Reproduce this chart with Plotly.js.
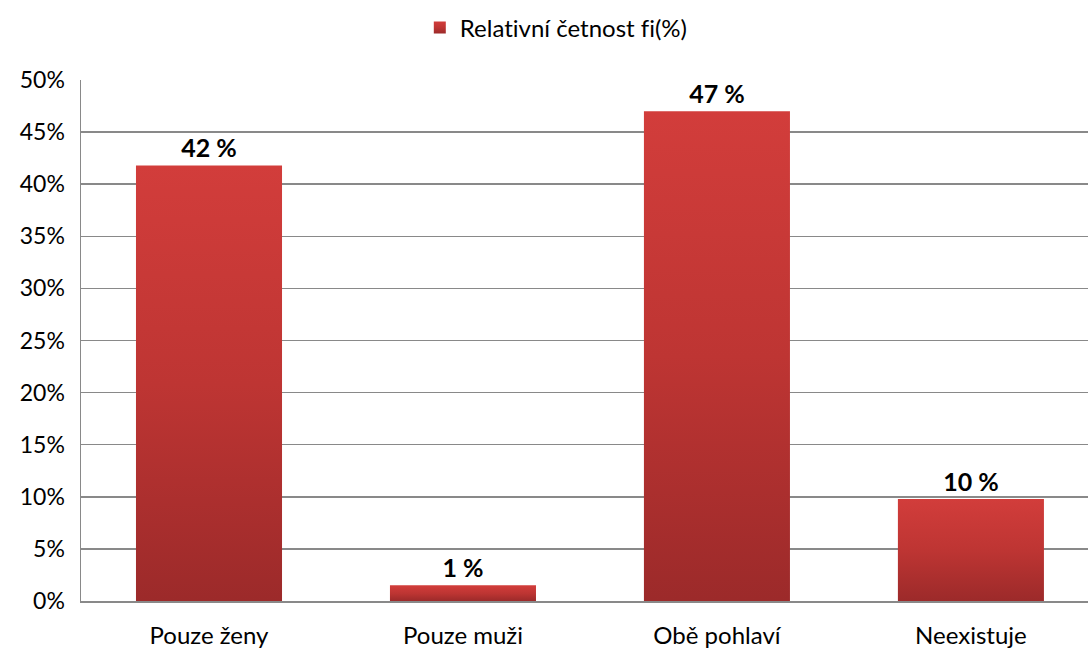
<!DOCTYPE html>
<html><head><meta charset="utf-8">
<script src="https://cdn.plot.ly/plotly-3.0.1.min.js"></script>
<style>html,body{margin:0;padding:0;background:#fff}#chart{width:1088px;height:648px}
#chart text{font-variant-ligatures:none !important;font-feature-settings:"liga" 0,"clig" 0 !important;}</style>
</head><body><div id="chart"></div>
<script>
const categories = ["Pouze ženy", "Pouze muži", "Obě pohlaví", "Neexistuje"];
const values = [41.8, 1.5, 47.0, 9.8];
const labels = ["42 %", "1 %", "47 %", "10 %"];
const seriesName = "Relativní četnost fi(%)";

const trace = {
  type: "bar",
  x: categories,
  y: values,
  name: seriesName,
  text: labels,
  texttemplate: "<b>%{text}</b>",
  textposition: "outside",
  cliponaxis: false,
  textfont: {family: "Lato, sans-serif", size: 25, color: "#000"},
  marker: {color: "#BE3533", line: {width: 0}},
  hoverinfo: "none"
};

const layout = {
  width: 1088, height: 648,
  margin: {l: 81, r: 0, t: 80, b: 47},
  paper_bgcolor: "#fff", plot_bgcolor: "#fff",
  font: {family: "Lato, sans-serif", size: 24, color: "#000"},
  bargap: 0.425,
  showlegend: true,
  legend: {orientation: "h", x: 0.472, xanchor: "center", y: 1.1, yanchor: "middle",
           font: {size: 24}, itemwidth: 30},
  xaxis: {
    type: "category", range: [-0.504, 3.461],
    showline: true, linecolor: "#898989", linewidth: 1.5,
    showgrid: false, ticks: "", ticklabelstandoff: 13,
    tickfont: {size: 24}
  },
  yaxis: {
    range: [0, 50], dtick: 5, ticksuffix: "%",
    showline: true, linecolor: "#898989", linewidth: 1.5,
    showgrid: true, gridcolor: "#898989", gridwidth: 1.5,
    zeroline: false, ticks: "", ticklabelstandoff: 10,
    tickfont: {size: 23}
  }
};

function applyGradient(gd) {
  const svg = gd.querySelector("svg.main-svg");
  if (!svg) return;
  const ns = "http://www.w3.org/2000/svg";
  let defs = svg.querySelector("defs");
  if (!defs) { defs = document.createElementNS(ns, "defs"); svg.insertBefore(defs, svg.firstChild); }
  if (!svg.querySelector("#barGrad")) {
    const g = document.createElementNS(ns, "linearGradient");
    g.setAttribute("id", "barGrad");
    g.setAttribute("x1", "0"); g.setAttribute("y1", "0");
    g.setAttribute("x2", "0"); g.setAttribute("y2", "1");
    [["0", "#D23D3B"], ["0.5", "#BE3533"], ["1", "#9C2A2A"]].forEach(([o, c]) => {
      const s = document.createElementNS(ns, "stop");
      s.setAttribute("offset", o); s.setAttribute("stop-color", c);
      g.appendChild(s);
    });
    defs.appendChild(g);
  }
  gd.querySelectorAll(".bars .point path").forEach(p => { p.style.fill = "url(#barGrad)"; });
  gd.querySelectorAll(".legend .legendpoints path").forEach(p => { p.style.fill = "url(#barGrad)"; });
  gd.querySelectorAll("text").forEach(t => {
    t.style.fontVariantLigatures = "none";
    t.style.fontFeatureSettings = '"liga" 0';
  });
}

Plotly.newPlot("chart", [trace], layout, {displayModeBar: false, staticPlot: true})
  .then(applyGradient);
</script></body></html>
